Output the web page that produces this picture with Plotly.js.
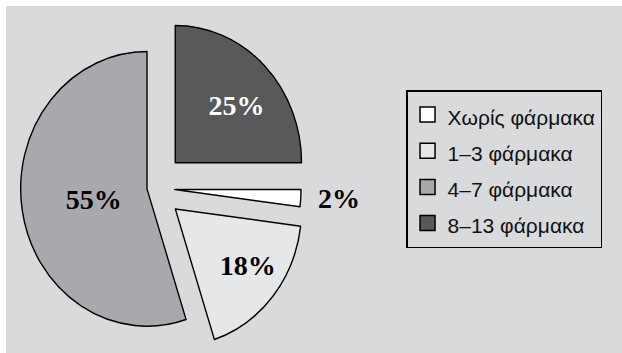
<!DOCTYPE html>
<html>
<head>
<meta charset="utf-8">
<script src="https://cdn.plot.ly/plotly-3.0.1.min.js"></script>
<style>
  html, body { margin: 0; padding: 0; background: #ffffff; overflow: hidden; }
  #chart { position: absolute; left: 6px; top: 6px; width: 616px; height: 400px; }
  #chart .pielayer path.textline { display: none; }
</style>
</head>
<body>
<div id="chart"></div>
<script>
// Number of medicines taken, share of patients (%)
const categories = ['Χωρίς φάρμακα', '1–3 φάρμακα', '4–7 φάρμακα', '8–13 φάρμακα'];
const shares = [2, 18, 55, 25];
const sliceColors = ['#ffffff', '#e6e7e9', '#a8a9ac', '#58595b'];
const pulls = [0.18, 0.24, 0.04, 0.26];
const labelPositions = ['outside', 'inside', 'inside', 'inside'];
const labelColors = ['#000000', '#000000', '#000000', '#ffffff'];

// legend rows use a larger base font for spacing; the visible text is smaller
const legendLabels = categories.map(c => '<span style="font-size:21px">' + c + '</span>');

const serif = 'Liberation Serif, Times New Roman, serif';
const trace = {
  type: 'pie',
  labels: legendLabels,
  values: shares,
  sort: false,
  direction: 'clockwise',
  rotation: 90,
  pull: pulls,
  marker: { colors: sliceColors, line: { color: '#000000', width: 1.5 } },
  texttemplate: '%{value}%',
  textposition: labelPositions,
  insidetextorientation: 'horizontal',
  insidetextfont: { family: serif, size: 28, weight: 'bold', color: labelColors },
  outsidetextfont: { family: serif, size: 28, weight: 'bold', color: '#000000' },
  domain: { x: [0, 0.6], y: [0.1125, 0.9775] },
  hoverinfo: 'none',
  automargin: false
};

const layout = {
  width: 616, height: 400,
  margin: { l: 0, r: 0, t: 0, b: 0 },
  paper_bgcolor: '#d9dadc',
  showlegend: true,
  legend: {
    x: 0.6494, y: 0.79, xanchor: 'left', yanchor: 'top',
    bgcolor: 'rgba(0,0,0,0)', bordercolor: '#000000', borderwidth: 1.5,
    entrywidth: 166, entrywidthmode: 'pixels',
    font: { family: 'Liberation Sans, Arial, sans-serif', size: 25.5, color: '#111111' }
  }
};

const gd = document.getElementById('chart');
Plotly.newPlot(gd, [trace], layout, { staticPlot: true, displayModeBar: false }).then(() => {
  // the pie is drawn slightly narrower than tall: squeeze it horizontally
  // about its centre, keeping the percentage glyphs themselves unsqueezed
  const sx = 0.92;
  const targetCx = 146;
  const labelShift = 9;
  const cd0 = gd.calcdata[0][0];
  const g = gd.querySelector('.pielayer .trace');
  g.setAttribute('transform', 'translate(' + (targetCx - sx * cd0.cx) + ',0) scale(' + sx + ',1)');
  g.querySelectorAll('text.slicetext').forEach(t => {
    const tr = t.getAttribute('transform') || '';
    t.setAttribute('transform', 'translate(' + (labelShift / sx) + ',0) ' + tr + ' scale(' + (1 / sx) + ',1)');
  });
  // slightly larger legend swatches
  gd.querySelectorAll('.legend .legendpoints path').forEach(p => {
    const tr = p.getAttribute('transform') || '';
    p.setAttribute('transform', tr + ' scale(1.25)');
    p.style.strokeWidth = '1.2px';
  });
});
</script>
</body>
</html>
